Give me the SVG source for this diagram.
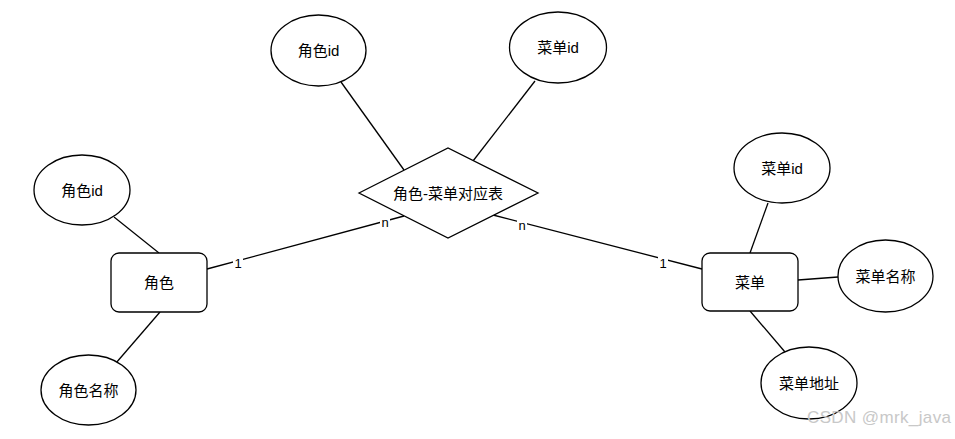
<svg xmlns="http://www.w3.org/2000/svg" width="955" height="439" viewBox="0 0 955 439">
<style>
.s{fill:#fff;stroke:#000;stroke-width:1.3}
.t{font-family:"Liberation Sans","Noto Sans CJK SC",sans-serif;font-size:15px;fill:#000;text-anchor:middle;dominant-baseline:central}
.c line{stroke:#000;stroke-width:1.3}
.l{font-family:"Liberation Sans","Noto Sans CJK SC",sans-serif;font-size:13px;fill:#000;text-anchor:middle;dominant-baseline:central}
</style>
<rect width="955" height="439" fill="#fff"/>
<g id="connectors" class="c">
<line x1="207" y1="269" x2="404" y2="216"/>
<line x1="493" y1="215" x2="702" y2="269"/>
<line x1="341" y1="82" x2="404" y2="170"/>
<line x1="535" y1="81" x2="473" y2="161"/>
<line x1="114" y1="217" x2="159" y2="253"/>
<line x1="160" y1="312" x2="116" y2="363"/>
<line x1="768" y1="203" x2="750" y2="253"/>
<line x1="798" y1="280" x2="838" y2="277"/>
<line x1="750" y1="311" x2="785" y2="352"/>
<rect x="233" y="256" width="10" height="14" fill="#fff"/>
<text class="l" x="238" y="263">1</text>
<rect x="380" y="215" width="10" height="14" fill="#fff"/>
<text class="l" x="385" y="222">n</text>
<rect x="517" y="218" width="10" height="14" fill="#fff"/>
<text class="l" x="522" y="225">n</text>
<rect x="658" y="256" width="10" height="14" fill="#fff"/>
<text class="l" x="663" y="263">1</text>
</g>
<g id="rel"><polygon class="s" points="359,193 448,148 538,193 448,238"/><text class="t" x="448" y="193">角色-菜单对应表</text></g>
<g id="role"><rect class="s" x="111" y="253" width="96" height="59" rx="8"/><text class="t" x="159" y="282">角色</text></g>
<g id="menu"><rect class="s" x="702" y="253" width="96" height="58" rx="8"/><text class="t" x="750" y="282">菜单</text></g>
<g id="a1"><ellipse class="s" cx="318.5" cy="50.5" rx="47.5" ry="35.5"/><text class="t" x="318.5" y="50.5">角色id</text></g>
<g id="a2"><ellipse class="s" cx="558" cy="47.5" rx="48.5" ry="35.5"/><text class="t" x="558" y="47.5">菜单id</text></g>
<g id="a3"><ellipse class="s" cx="82" cy="190" rx="48" ry="35"/><text class="t" x="82" y="190">角色id</text></g>
<g id="a4"><ellipse class="s" cx="88.5" cy="390" rx="47.5" ry="35"/><text class="t" x="88.5" y="390">角色名称</text></g>
<g id="a5"><ellipse class="s" cx="782" cy="168" rx="48" ry="35"/><text class="t" x="782" y="168">菜单id</text></g>
<g id="a6"><ellipse class="s" cx="885.5" cy="276" rx="47.5" ry="36"/><text class="t" x="885.5" y="276">菜单名称</text></g>
<g id="a7"><ellipse class="s" cx="809" cy="383" rx="48" ry="36"/><text class="t" x="809" y="383">菜单地址</text></g>
<text x="807" y="423" font-family="'Liberation Sans',sans-serif" font-size="17" fill="#c8c8c8" textLength="144">CSDN @mrk_java</text>
</svg>
